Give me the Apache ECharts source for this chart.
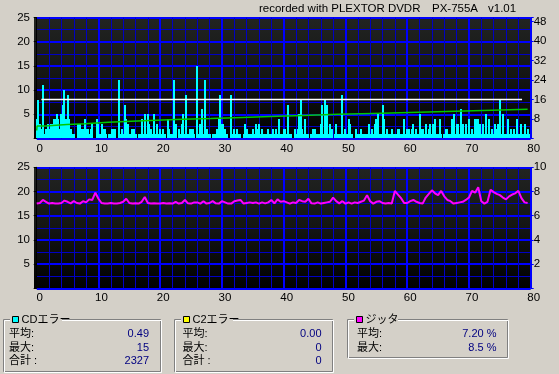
<!DOCTYPE html>
<html><head><meta charset="utf-8">
<script src="https://cdn.jsdelivr.net/npm/echarts@6/dist/echarts.min.js"></script>
<style>html,body{margin:0;padding:0;background:#d4d0c8;}#c{width:559px;height:374px;}</style>
</head><body><div id="c"></div>
<script>
// ---------- data ----------
const c1Step = 0.25; // sample spacing on the x axis
const c1Errors = [
4,8,3,2, 11,1,2,3, 2,3,3,4, 4,5,4,2, 5,7,10,4, 9,4,2,1, 1,0,0,3, 3,2,2,4, 2,2,1,2, 3,0,0,4,
3,1,3,2, 2,1,0,1, 1,2,2,2, 0,12,1,2, 1,7,4,3, 1,1,2,2, 1,0,1,1, 4,1,5,1, 5,3,2,1, 5,1,3,1,
2,1,2,1, 0,4,2,1, 1,12,3,0, 2,1,3,5, 1,9,1,2, 2,2,1,0, 15,1,3,6, 1,12,2,1, 1,0,1,1, 1,2,4,9,
3,3,2,1, 0,0,9,1, 2,1,2,1, 1,0,1,3, 2,1,1,1, 2,1,3,2, 3,1,2,1, 1,1,2,1, 1,2,1,2, 1,4,1,1,
2,2,1,7, 1,1,0,2, 1,2,5,8, 2,1,4,1, 1,0,1,2, 2,1,1,1, 3,7,1,8, 7,1,3,2, 0,1,3,1, 1,1,9,1,
2,1,4,3, 1,0,0,2, 1,1,2,1, 1,1,1,3, 1,2,1,3, 4,5,1,1, 7,4,1,2, 1,1,2,1, 1,1,2,2, 1,1,4,1,
2,2,1,2, 3,1,2,1, 5,2,2,1, 3,1,2,3, 1,3,4,1, 1,4,1,0, 1,2,2,1, 1,4,5,1, 3,3,1,6, 3,1,3,1,
4,1,2,1, 4,4,4,3, 1,3,1,5, 1,4,1,2, 1,3,2,3, 8,1,5,1, 1,4,1,2, 1,2,1,4, 1,1,3,1, 3,1,2,1
];
const speedX = [0, 0.05, 1.4, 4.9, 7.8, 11.6, 15.3, 19.4, 23.6, 28.2, 33.3, 37.8, 43.1, 48.8, 54.4, 60.4, 66.3, 72.2, 79.5];
const speedV = [3.3, 5.1, 5.7, 6.1, 6.7, 7.1, 7.5, 7.9, 8.2, 8.6, 9.0, 9.4, 9.9, 10.3, 10.7, 11.1, 11.5, 12.0, 12.2];
const refLineX = [0.75, 40, 78.6];
const refLineV = [16, 16, 16];
const jitterStep = 0.5;
const jitter = [
7.0,7.05,7.3,7.15,7.0,7.05,7.0,7.0,7.05,7.25,
7.15,7.02,7.2,7.05,7.0,7.2,7.1,7.35,7.3,7.9,
7.4,7.05,7.0,7.0,7.05,7.0,7.0,7.05,7.15,7.4,
7.05,7.0,7.02,7.0,7.15,7.55,7.05,7.0,7.02,7.0,
7.0,7.05,7.0,7.02,7.0,7.15,7.0,7.05,7.3,7.02,
7.0,7.1,7.1,7.0,7.2,7.0,7.05,7.2,7.02,7.0,
7.2,7.1,7.0,7.0,7.2,7.25,7.3,7.0,7.05,7.1,
7.05,7.1,7.0,7.1,7.02,7.1,7.3,7.02,7.35,7.15,
7.2,7.1,7.0,7.1,7.05,7.3,7.2,7.15,7.4,7.02,
7.0,7.1,7.0,7.05,7.1,7.15,7.5,7.2,7.02,7.2,
7.0,7.1,7.0,7.1,7.05,7.15,7.25,7.7,7.2,7.0,
7.15,7.2,7.05,7.0,7.05,7.0,8.05,7.75,7.45,7.05,
7.05,7.2,7.3,7.15,7.05,7.0,7.5,7.8,8.1,7.85,
7.7,8.05,7.6,7.3,7.2,7.0,7.05,7.1,7.15,7.3,
7.5,8.05,7.9,8.35,7.2,7.0,7.15,8.15,7.95,7.8,
7.7,7.5,7.35,7.6,7.75,7.85,8.05,7.45,7.1,7.05
];
const leftTicks = [5, 10, 15, 20, 25];
const rightTopTicks = [8, 16, 24, 32, 40, 48];
const rightBottomTicks = [2, 4, 6, 8, 10];
const titleParts = ['recorded with PLEXTOR DVDR', 'PX-755A', 'v1.01'];
const statLabels = ['平均:', '最大:', '合計 :'];
const c1Stats = ['0.49', '15', '2327'];
const c2Stats = ['0.00', '0', '0'];
const jitStats = ['7.20 %', '8.5 %'];
const panelTitles = ['CDエラー', 'C2エラー', 'ジッタ'];
const panelColors = ['#00ffff', '#ffff00', '#ff00ff'];

// ---------- layout ----------
const FONT = '"Liberation Sans", Arial, sans-serif';
const PFONT = '11px "Liberation Sans", "Noto Sans CJK JP", sans-serif';
const G = [{top: 17.5, h: 121}, {top: 167.3, h: 121}];
const gLeft = 36.7, gRight = 28.3, bgLeft = 34, bgRight = 530.7;

function xAxis(i) {
  return {
    type: 'value', gridIndex: i, min: 0, max: 80, interval: 10,
    axisLine: {show: false}, axisTick: {show: false},
    axisLabel: {color: '#000', fontSize: 11.5, fontFamily: FONT, margin: 4, padding: [0, 0, 0, 6]},
    splitLine: {show: true, showMinLine: false, showMaxLine: true, lineStyle: {color: '#0000ff', width: 2}},
    minorTick: {show: false, splitNumber: 5},
    minorSplitLine: {show: true, lineStyle: {color: '#0000c4', width: 1}}
  };
}
function leftAxis(i) {
  return {
    type: 'value', gridIndex: i, position: 'left', min: 0, max: 25, interval: 5, offset: 2.7,
    axisLine: {show: true, lineStyle: {color: '#000', width: 1}},
    axisTick: {show: true, length: 3, lineStyle: {color: '#000'}},
    axisLabel: {color: '#000', fontSize: 11.5, fontFamily: FONT, margin: 4,
      formatter: v => leftTicks.includes(v) ? String(v) : ''},
    splitLine: {show: true, lineStyle: {color: '#0000ff', width: 2}},
    minorTick: {show: false, splitNumber: 2},
    minorSplitLine: {show: true, lineStyle: {color: '#0000c4', width: 1}}
  };
}
function rightAxis(i, max, interval, ticks) {
  return {
    type: 'value', gridIndex: i, position: 'right', min: 0, max: max, interval: interval,
    axisLine: {show: false},
    axisTick: {show: true, length: 3, lineStyle: {color: '#0000ff', width: 1}},
    axisLabel: {color: '#000', fontSize: 11.5, fontFamily: FONT, margin: 3,
      formatter: v => ticks.includes(v) ? String(v) : ''},
    splitLine: {show: false}
  };
}

const graphics = [];
G.forEach(g => {
  graphics.push({type: 'rect', z: -10, silent: true,
    shape: {x: bgLeft, y: g.top, width: bgRight - bgLeft, height: g.h},
    style: {fill: new echarts.graphic.LinearGradient(0, 0, 0, 1, [
      {offset: 0, color: '#222422'}, {offset: 0.5, color: '#141514'}, {offset: 1, color: '#000000'}])}});
});
const titleX = [259, 432, 488];
titleParts.forEach((t, i) => graphics.push({type: 'text', x: titleX[i], y: 8.5,
  style: {text: t, fill: '#000', font: '11.5px ' + FONT, verticalAlign: 'middle'}}));

const boxes = [
  {x: 3, y: 319, w: 157, h: 52, lx: 9, vx: 149, vals: c1Stats, tw: 52},
  {x: 174, y: 319, w: 158, h: 52, lx: 182.5, vx: 321.5, vals: c2Stats, tw: 52},
  {x: 347, y: 319, w: 160, h: 38, lx: 357, vx: 496.5, vals: jitStats, tw: 44}
];
const rowY = [333.5, 347.5, 361];
boxes.forEach((b, k) => {
  graphics.push({type: 'rect', silent: true, shape: {x: b.x + 0.5, y: b.y + 0.5, width: b.w, height: b.h},
    style: {fill: 'none', stroke: '#808080', lineWidth: 1}});
  graphics.push({type: 'rect', silent: true, shape: {x: b.x + 1.5, y: b.y + 1.5, width: b.w, height: b.h},
    style: {fill: 'none', stroke: '#ffffff', lineWidth: 1}});
  graphics.push({type: 'rect', silent: true, shape: {x: b.x + 7, y: b.y - 6, width: b.tw, height: 12},
    style: {fill: '#d4d0c8'}});
  graphics.push({type: 'rect', silent: true, shape: {x: b.x + 9.5, y: b.y - 2.5, width: 6, height: 6},
    style: {fill: panelColors[k], stroke: '#000', lineWidth: 1}});
  graphics.push({type: 'text', x: b.x + 18.5, y: b.y + 0.5,
    style: {text: panelTitles[k], fill: '#000', font: PFONT, verticalAlign: 'middle'}});
  b.vals.forEach((v, r) => {
    graphics.push({type: 'text', x: b.lx, y: rowY[r],
      style: {text: statLabels[r], fill: '#000', font: PFONT, verticalAlign: 'middle'}});
    graphics.push({type: 'text', x: b.vx, y: rowY[r],
      style: {text: v, fill: '#000080', font: PFONT, verticalAlign: 'middle', align: 'right'}});
  });
});

function renderBar(params, api) {
  const v = api.value(1);
  if (!v) return null;
  const top = api.coord([api.value(0), v]);
  const base = api.coord([api.value(0), 0]);
  const x = Math.round(top[0]) - 1;
  const y = Math.round(top[1]);
  const yb = Math.round(base[1]) - 1;
  return {type: 'rect', shape: {x: x, y: y, width: 2, height: Math.max(1, yb - y)},
    style: {fill: '#00ffff', stroke: null, opacity: 1}};
}

const chart = echarts.init(document.getElementById('c'), null, {renderer: 'canvas'});
chart.setOption({
  animation: false,
  backgroundColor: '#d4d0c8',
  grid: G.map(g => ({left: gLeft, right: gRight, top: g.top, height: g.h, containLabel: false})),
  xAxis: [xAxis(0), xAxis(1)],
  yAxis: [leftAxis(0), rightAxis(0, 49.64, 8, rightTopTicks), leftAxis(1), rightAxis(1, 10, 2, rightBottomTicks)],
  graphic: graphics,
  series: [
    {type: 'custom', xAxisIndex: 0, yAxisIndex: 0, silent: true, renderItem: renderBar, z: 3,
      encode: {x: 0, y: 1}, data: c1Errors.map((v, i) => [i * c1Step, v])},
    {type: 'line', xAxisIndex: 0, yAxisIndex: 1, symbol: 'none', silent: true, z: 5,
      lineStyle: {color: '#ffffff', width: 1.5, opacity: 1}, data: refLineX.map((x, i) => [x, refLineV[i]])},
    {type: 'line', xAxisIndex: 0, yAxisIndex: 1, symbol: 'none', step: 'end', silent: true, z: 6,
      lineStyle: {color: '#00c800', width: 1.5}, data: speedX.map((x, i) => [x, speedV[i]])},
    {type: 'line', xAxisIndex: 1, yAxisIndex: 3, symbol: 'none', silent: true,
      lineStyle: {color: '#ff00ff', width: 2}, data: jitter.map((v, i) => [i * jitterStep, v])}
  ]
});
</script></body></html>
